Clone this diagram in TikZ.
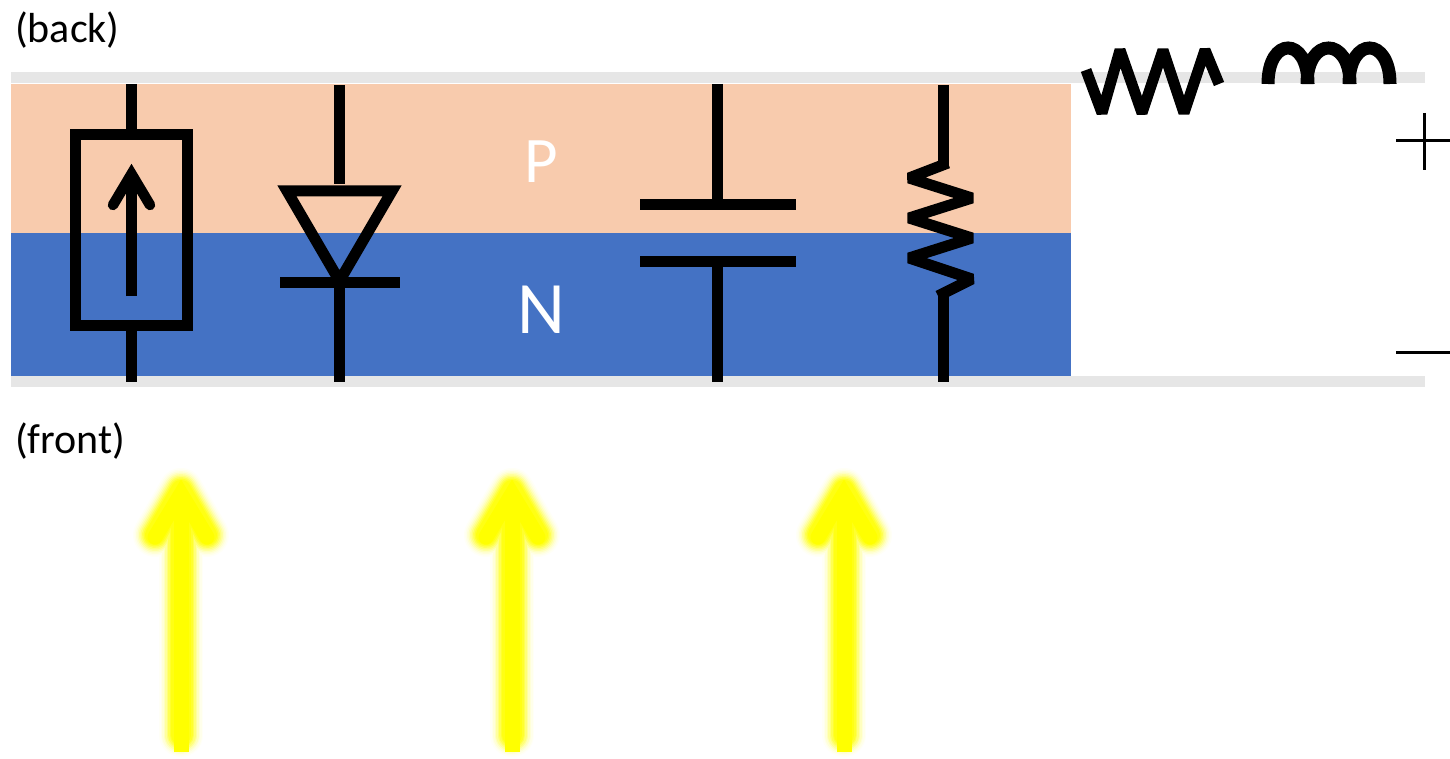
\documentclass[tikz,border=0pt]{standalone}
\usepackage{fontspec}
\setmainfont{Carlito}
\definecolor{peach}{HTML}{F8CBAD}
\definecolor{nblue}{HTML}{4472C4}
\definecolor{barg}{HTML}{E6E6E6}
\definecolor{sunyellow}{RGB}{255,255,0}
\tikzset{
  wire/.style={draw=black,line width=11pt},
  zig/.style={wire,line join=bevel},
  thin sign/.style={draw=black,line width=3pt},
  label/.style={font=\fontsize{42}{46}\selectfont,anchor=base west,inner sep=0pt,text=black},
  layer/.style={font=\fontsize{#1}{#1}\selectfont,text=white,inner sep=0pt,anchor=base},
}
\newcommand{\sunarrow}[1]{%
  \begin{scope}[xshift=#1pt]
    \foreach \w/\c in {44/3,41/8,38/15,35/25,32/38,29/52,26/68,23/82,20/92}{
      \draw[draw=sunyellow!\c!white,line width=\w pt,line join=round,line cap=round]
        (0,735) -- (0,500);
      \draw[draw=sunyellow!\c!white,line width=\w pt,line join=round,line cap=round]
        (-26,535) -- (0,490) -- (26,535);
    }
    \draw[draw=sunyellow,line width=15pt,line cap=butt] (0,752) -- (0,495);
    \draw[draw=sunyellow,line width=15pt,line cap=round,line join=miter,miter limit=10]
      (-26,537) -- (0,494) -- (26,537);
  \end{scope}}
\begin{document}
\begin{tikzpicture}[x=1pt,y=-1pt]
\useasboundingbox (0,0) rectangle (1450,759);
\fill[white] (0,0) rectangle (1450,759);
% layers
\fill[barg] (11,72) rectangle (1425,83);
\fill[barg] (11,376) rectangle (1425,387);
\fill[peach] (11,84) rectangle (1071,233);
\fill[nblue] (11,233) rectangle (1071,376);
% current source
\draw[wire] (131,84) -- (131,129);
\draw[wire] (131,330) -- (131,382);
\draw[wire] (75,135) rectangle (187,325);
\draw[wire] (131,296) -- (131,175);
\draw[draw=black,line width=10.5pt,line cap=round,line join=miter,miter limit=10]
  (113,205) -- (131.5,174) -- (150,205);
% diode
\draw[wire] (339.5,85) -- (339.5,184);
\draw[wire,line join=miter,miter limit=10] (287,191) -- (392,191) -- (339.5,281) -- cycle;
\draw[wire] (280,282.5) -- (400,282.5);
\draw[wire] (339.5,282) -- (339.5,382);
% capacitor
\draw[wire] (717,84) -- (717,204.5);
\draw[wire] (640,204.5) -- (796,204.5);
\draw[wire] (640,261.5) -- (796,261.5);
\draw[wire] (717,261.5) -- (717,382);
% resistor in the junction
\draw[wire] (943,85) -- (943,165);
\draw[zig] (948,163) -- (909,178) -- (972,198) -- (909,218) -- (972,238) -- (909,258) -- (972,279) -- (938,296);
\draw[wire] (943,292) -- (943,382);
% series resistor
\draw[zig] (1086,70) -- (1102,113) -- (1120,50) -- (1142,113) -- (1163,50) -- (1184,113) -- (1205,50) -- (1219,84);
% inductor
\draw[draw=black,line width=13pt,line cap=butt]
  (1268,84) .. controls (1268,36) and (1308,36) .. (1308,84)
  (1307,84) .. controls (1307,36) and (1350,36) .. (1350,84)
  (1349,84) .. controls (1349,36) and (1390,36) .. (1390,84);
% terminals
\draw[thin sign] (1396,141) -- (1450,141);
\draw[thin sign] (1424,113) -- (1424,170);
\draw[thin sign] (1396,352) -- (1450,352);
% texts
\node[label] (back) at (15,43) {(back)};
\node[label] (front) at (15,453) {(front)};
\node[layer=65] (p) at (541,183) {P};
\node[layer=74] (n) at (541,333) {N};
% light
\sunarrow{181}
\sunarrow{512}
\sunarrow{844}
\end{tikzpicture}
\end{document}
